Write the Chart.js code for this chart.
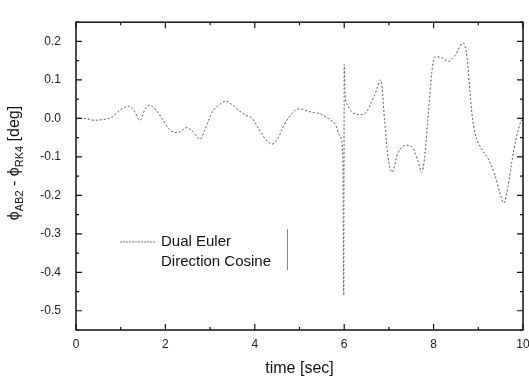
<!DOCTYPE html>
<html>
<head>
<meta charset="utf-8">
<script src="https://cdn.jsdelivr.net/npm/chart.js@4.4.0/dist/chart.umd.min.js"></script>
<style>
  html, body { margin: 0; padding: 0; background: #fff; }
  #wrap { width: 529px; height: 378px; }
</style>
</head>
<body>
<div id="wrap"><canvas id="chart" width="529" height="378"></canvas></div>
<script>
// time [sec]
const time = [0, 0.2, 0.4, 0.6, 0.8, 0.97, 1.17, 1.3, 1.43, 1.55, 1.65, 1.8, 1.95, 2.1, 2.28, 2.48, 2.62, 2.77, 2.9, 3.04, 3.2, 3.35, 3.5, 3.65, 3.8, 3.94, 4.1, 4.25, 4.38, 4.5, 4.68, 4.83, 4.97, 5.2, 5.5, 5.7, 5.8, 5.9, 5.97, 5.99, 6.0, 6.02, 6.06, 6.24, 6.4, 6.5, 6.6, 6.7, 6.82, 6.9, 6.98, 7.07, 7.2, 7.4, 7.52, 7.65, 7.74, 7.8, 7.88, 7.96, 8.03, 8.2, 8.32, 8.48, 8.66, 8.75, 8.81, 8.86, 8.93, 9.04, 9.22, 9.37, 9.49, 9.57, 9.66, 9.75, 9.84, 9.93, 10.0];

const dualEuler = [0, 0, -0.005, -0.003, 0.003, 0.02, 0.032, 0.02, -0.005, 0.025, 0.034, 0.02, -0.005, -0.03, -0.037, -0.024, -0.035, -0.054, -0.025, 0.015, 0.035, 0.045, 0.035, 0.02, 0.008, 0, -0.03, -0.055, -0.067, -0.055, -0.012, 0.012, 0.025, 0.018, 0.01, -0.005, -0.015, -0.045, -0.1, -0.46, 0.14, 0.06, 0.037, 0.012, 0.01, 0.017, 0.04, 0.066, 0.1, 0.0, -0.1, -0.14, -0.09, -0.07, -0.075, -0.11, -0.14, -0.1, 0.01, 0.12, 0.16, 0.157, 0.148, 0.164, 0.196, 0.157, 0.074, 0.01, -0.04, -0.073, -0.105, -0.147, -0.196, -0.22, -0.18, -0.113, -0.056, -0.015, 0.0];

const directionCosine = [0, 0, -0.005, -0.003, 0.003, 0.02, 0.032, 0.02, -0.005, 0.025, 0.034, 0.02, -0.005, -0.03, -0.037, -0.024, -0.035, -0.054, -0.025, 0.015, 0.035, 0.045, 0.035, 0.02, 0.008, 0, -0.03, -0.055, -0.067, -0.055, -0.012, 0.012, 0.025, 0.018, 0.01, -0.005, -0.015, -0.045, -0.1, -0.18, -0.02, 0.05, 0.037, 0.012, 0.01, 0.017, 0.04, 0.066, 0.1, 0.0, -0.1, -0.14, -0.09, -0.07, -0.075, -0.11, -0.14, -0.1, 0.01, 0.12, 0.16, 0.157, 0.148, 0.164, 0.196, 0.157, 0.074, 0.01, -0.04, -0.073, -0.105, -0.147, -0.196, -0.22, -0.18, -0.113, -0.056, -0.015, 0.0];

const xTicks = [0, 2, 4, 6, 8, 10];
const yTicks = [-0.5, -0.4, -0.3, -0.2, -0.1, 0.0, 0.1, 0.2];

const FONT = '"Liberation Sans", Arial, sans-serif';

function toPoints(ys) {
    return time.map((t, i) => ({ x: t, y: ys[i] }));
}

// box round the plot with inward ticks on all four sides
const framePlugin = {
    id: 'frame',
    afterDraw(chart) {
        const ctx = chart.ctx;
        const a = chart.chartArea;
        const xs = chart.scales.x;
        const ys = chart.scales.y;
        ctx.save();
        ctx.strokeStyle = '#111';
        ctx.lineWidth = 1.5;
        ctx.strokeRect(a.left, a.top, a.right - a.left, a.bottom - a.top);
        ctx.lineWidth = 1.2;
        ctx.beginPath();
        xs.ticks.forEach((t, i) => {
            const px = xs.getPixelForValue(t.value);
            ctx.moveTo(px, a.bottom); ctx.lineTo(px, a.bottom - 6);
            ctx.moveTo(px, a.top); ctx.lineTo(px, a.top + 6);
            if (i < xs.ticks.length - 1) {
                const mx = xs.getPixelForValue((t.value + xs.ticks[i + 1].value) / 2);
                ctx.moveTo(mx, a.bottom); ctx.lineTo(mx, a.bottom - 3);
                ctx.moveTo(mx, a.top); ctx.lineTo(mx, a.top + 3);
            }
        });
        const yv = ys.ticks.map(t => t.value);
        const minors = [yv[0] - 0.05].concat(yv.map(v => v + 0.05));
        yv.forEach(v => {
            const py = ys.getPixelForValue(v);
            ctx.moveTo(a.left, py); ctx.lineTo(a.left + 6, py);
            ctx.moveTo(a.right, py); ctx.lineTo(a.right - 6, py);
        });
        minors.forEach(v => {
            if (v < ys.min || v > ys.max) return;
            const py = ys.getPixelForValue(v);
            ctx.moveTo(a.left, py); ctx.lineTo(a.left + 3, py);
            ctx.moveTo(a.right, py); ctx.lineTo(a.right - 3, py);
        });
        ctx.stroke();
        ctx.restore();
    }
};

// y title with subscripts, rotated
const yTitlePlugin = {
    id: 'ytitle',
    afterDraw(chart) {
        const ctx = chart.ctx;
        const parts = [
            ['\u03d5', 16, 0], ['AB2', 11, 4], [' - ', 16, 0],
            ['\u03d5', 16, 0], ['RK4', 11, 4], [' [deg]', 16, 0]
        ];
        ctx.save();
        ctx.fillStyle = '#111';
        ctx.textBaseline = 'alphabetic';
        let total = 0;
        parts.forEach(p => { ctx.font = p[1] + 'px ' + FONT; total += ctx.measureText(p[0]).width; });
        ctx.translate(19, 163);
        ctx.rotate(-Math.PI / 2);
        let x = -total / 2;
        parts.forEach(p => {
            ctx.font = p[1] + 'px ' + FONT;
            ctx.fillText(p[0], x, p[2]);
            x += ctx.measureText(p[0]).width;
        });
        ctx.restore();
    }
};

// legend inside the plot area
const legendPlugin = {
    id: 'innerLegend',
    afterDraw(chart) {
        const ctx = chart.ctx;
        const sets = chart.data.datasets;
        ctx.save();
        ctx.font = '15px ' + FONT;
        ctx.fillStyle = '#111';
        ctx.textBaseline = 'middle';
        ctx.strokeStyle = '#777';
        ctx.lineWidth = 1.2;
        ctx.setLineDash([2, 1]);
        ctx.beginPath();
        ctx.moveTo(120, 242); ctx.lineTo(155, 242);
        ctx.stroke();
        ctx.setLineDash([]);
        ctx.fillText(sets[0].label, 161, 242);
        ctx.fillText(sets[1].label, 161, 262);
        ctx.strokeStyle = '#888';
        ctx.lineWidth = 1;
        ctx.beginPath();
        ctx.moveTo(287.5, 229); ctx.lineTo(287.5, 270);
        ctx.stroke();
        ctx.restore();
    }
};

new Chart(document.getElementById('chart'), {
    type: 'line',
    data: {
        datasets: [{
            label: 'Dual Euler',
            data: toPoints(dualEuler),
            borderColor: '#6a6a6a',
            borderWidth: 1,
            borderDash: [2, 2],
            pointRadius: 0,
            cubicInterpolationMode: 'monotone',
            fill: false
        }, {
            label: 'Direction Cosine',
            data: toPoints(directionCosine),
            borderColor: '#aaa',
            borderWidth: 1,
            borderDash: [1, 3],
            pointRadius: 0,
            cubicInterpolationMode: 'monotone',
            fill: false
        }]
    },
    options: {
        responsive: false,
        animation: false,
        layout: { padding: { top: 5, right: 6, left: 0, bottom: 0 } },
        plugins: {
            legend: { display: false },
            tooltip: { enabled: false }
        },
        scales: {
            x: {
                type: 'linear',
                min: 0,
                max: 10,
                afterBuildTicks: s => { s.ticks = xTicks.map(v => ({ value: v })); },
                afterFit: s => { s.height = 48; s.paddingRight = 0; s.paddingLeft = 0; },
                grid: { display: false, drawTicks: false },
                border: { display: false },
                ticks: { padding: 7, color: '#222', font: { family: FONT, size: 12 }, maxRotation: 0 },
                title: { display: true, text: 'time [sec]', color: '#111', font: { family: FONT, size: 16 }, padding: { top: 2, bottom: 0 } }
            },
            y: {
                type: 'linear',
                min: -0.55,
                max: 0.25,
                afterBuildTicks: s => { s.ticks = yTicks.map(v => ({ value: v })); },
                afterFit: s => { s.width = 76; },
                grid: { display: false, drawTicks: false },
                border: { display: false },
                ticks: { padding: 15, color: '#222', font: { family: FONT, size: 12 }, callback: v => v.toFixed(1) }
            }
        }
    },
    plugins: [framePlugin, yTitlePlugin, legendPlugin]
});
</script>
</body>
</html>
